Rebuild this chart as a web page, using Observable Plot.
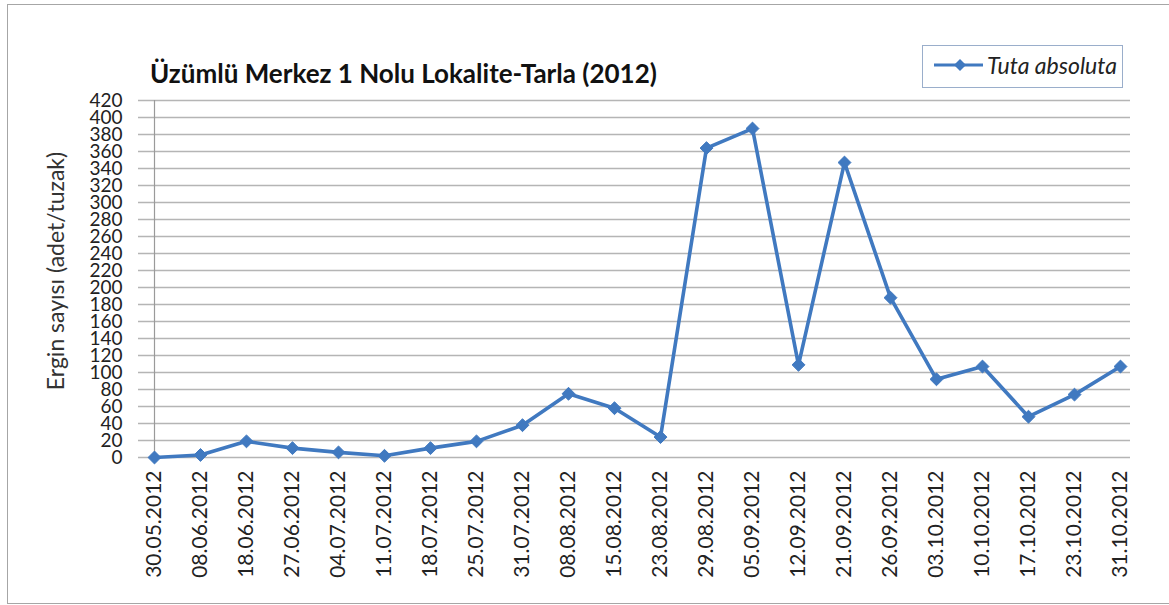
<!DOCTYPE html>
<html>
<head>
<meta charset="utf-8">
<script src="https://cdn.jsdelivr.net/npm/d3@7"></script>
<script src="https://cdn.jsdelivr.net/npm/@observablehq/plot@0.6"></script>
<style>
  body { margin: 0; background: #fff; width: 1169px; height: 605px; overflow: hidden; position: relative; font-family: Lato, "Open Sans", sans-serif; }
  #frame { position: absolute; left: 7px; top: 4px; width: 1200px; height: 598px; border: 1px solid #a6a6a6; }
  #title { position: absolute; left: 150px; top: 60px; font: bold 26px Lato, sans-serif; line-height: 26px; color: #111; white-space: nowrap; }
  #legend { position: absolute; left: 922px; top: 45px; width: 201px; height: 43px; border: 1px solid #9aaecb; box-sizing: border-box; background: #fff; }
  #legend svg { position: absolute; left: 0; top: 0; }
  #legend span { position: absolute; left: 64px; top: 6px; font: italic 23px Lato, sans-serif; line-height: 26px; color: #222; white-space: nowrap; }
  #chart { position: absolute; left: 0; top: 80px; }
</style>
</head>
<body>
<div id="frame"></div>
<div id="title"></div>
<div id="legend"></div>
<div id="chart"></div>
<script>
// Trap dates (x categories)
const dates = [
  "30.05.2012", "08.06.2012", "18.06.2012", "27.06.2012", "04.07.2012", "11.07.2012",
  "18.07.2012", "25.07.2012", "31.07.2012", "08.08.2012", "15.08.2012", "23.08.2012",
  "29.08.2012", "05.09.2012", "12.09.2012", "21.09.2012", "26.09.2012", "03.10.2012",
  "10.10.2012", "17.10.2012", "23.10.2012", "31.10.2012"
];
// Adults caught per trap on each date
const adults = [0, 3, 19, 11, 6, 2, 11, 19, 38, 75, 58, 24, 364, 387, 109, 347, 188, 92, 107, 48, 74, 107];
// Y axis tick values
const yTicks = [0, 20, 40, 60, 80, 100, 120, 140, 160, 180, 200, 220, 240, 260, 280, 300, 320, 340, 360, 380, 400, 420];

const titleText = "Üzümlü Merkez 1 Nolu Lokalite-Tarla (2012)";
const yLabel = "Ergin sayısı (adet/tuzak)";
const seriesName = "Tuta absoluta";
const lineColor = "#4079c0";

document.getElementById("title").textContent = titleText;

// Legend: line swatch with a diamond marker, then the species name
const legend = document.getElementById("legend");
legend.innerHTML =
  `<svg width="64" height="41">
     <line x1="11" x2="60" y1="19" y2="19" stroke="${lineColor}" stroke-width="3"/>
     <path d="M37,13 L43,19 L37,25 L31,19 Z" fill="${lineColor}"/>
   </svg><span></span>`;
legend.querySelector("span").textContent = seriesName;

const rows = dates.map((d, i) => ({date: d, count: adults[i]}));

const chart = Plot.plot({
  width: 1169,
  height: 525,
  marginTop: 20,
  marginBottom: 148,
  marginLeft: 145,
  marginRight: 41,
  x: {type: "point", domain: dates, padding: 0},
  y: {domain: [0, 420]},
  style: {fontFamily: "Lato, sans-serif", color: "#222", background: "transparent"},
  marks: [
    Plot.ruleY(yTicks, {stroke: "#b5b5b5", strokeWidth: 1.7, insetLeft: -7, insetRight: -2}),
    Plot.ruleX([dates[0]], {stroke: "#9a9a9a", strokeWidth: 1.2}),
    Plot.axisY({ticks: yTicks, tickSize: 0, tickPadding: 23, fontSize: 19, label: null}),
    Plot.axisX({tickSize: 0, tickRotate: -90, tickPadding: 13, fontSize: 21, label: null}),
    Plot.text([yLabel], {frameAnchor: "left", textAnchor: "middle", dx: -89, dy: -8, rotate: -90, fontSize: 23, fill: "#333"}),
    Plot.line(rows, {x: "date", y: "count", stroke: lineColor, strokeWidth: 3.6}),
    Plot.dot(rows, {x: "date", y: "count", symbol: "diamond2", r: 5.8, fill: lineColor, stroke: lineColor, strokeWidth: 1})
  ]
});
document.getElementById("chart").appendChild(chart);
</script>
</body>
</html>
